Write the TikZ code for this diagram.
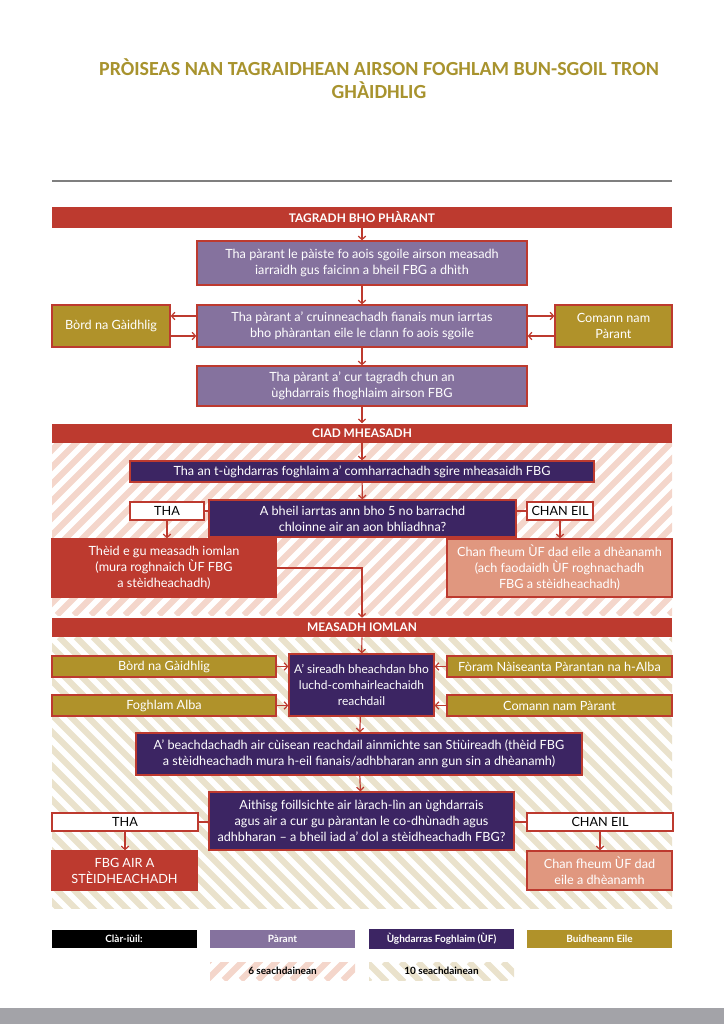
\documentclass[tikz,border=0pt]{standalone}
\usepackage{fontspec}
\setmainfont{Lato}
\newfontfamily\titlefont{Carlito}
\usetikzlibrary{arrows.meta}
\definecolor{redc}{HTML}{BD3A2F}
\definecolor{parentc}{HTML}{85729E}
\definecolor{authc}{HTML}{3C2563}
\definecolor{goldc}{HTML}{B0922A}
\definecolor{salmonc}{HTML}{E0977F}
\definecolor{pinkstripe}{HTML}{F4D6CB}
\definecolor{beigestripe}{HTML}{EAE2CC}
\definecolor{titlec}{HTML}{A8932E}
\definecolor{rulec}{HTML}{7F7F7F}
\definecolor{footc}{HTML}{A3A3A8}
\begin{document}
\begin{tikzpicture}[x=0.75pt,y=-0.75pt,
    size/.style 2 args={minimum width=#1*0.75pt, minimum height=#2*0.75pt},
    box/.style={draw=redc, line width=0.9pt, text=white, align=center, inner sep=1pt,
        font=\fontsize{9.5}{12}\selectfont},
    parent/.style={box, fill=parentc},
    authority/.style={box, fill=authc},
    other/.style={box, fill=goldc},
    answer/.style={box, fill=white, text=black},
    result/.style={box, fill=redc},
    soft/.style={box, fill=salmonc},
    bar/.style={fill=redc, text=white, size={620}{19}, font=\fontsize{8.9}{10}\selectfont\bfseries},
    key/.style={size={145}{18}, text=white, font=\fontsize{7.5}{8}\selectfont\bfseries},
    arr/.style={draw=redc, line width=0.9pt, -{Straight Barb[length=2.6pt,width=5.5pt]}},
    link/.style={draw=redc, line width=0.9pt}]
    \useasboundingbox (0,0) rectangle (724,1024);
    % title
    \node[text=titlec, align=center, font=\titlefont\fontsize{15}{17.3}\selectfont\bfseries] (title) at (379,78.5)
        {PRÒISEAS NAN TAGRAIDHEAN AIRSON FOGHLAM BUN-SGOIL TRON\\GHÀIDHLIG};
    \draw[rulec, line width=1.4pt] (52,181) -- (672,181);
    % 6 weeks
    \begin{scope}
        \clip (52,442) rectangle (672,615);
        \foreach \a in {-130,-113,...,672}
            \draw[pinkstripe, line width=4.6pt] (\a,615) -- ++(180,-180);
    \end{scope}
    % 10 weeks
    \begin{scope}
        \clip (52,637) rectangle (672,908);
        \foreach \a in {-230,-213,...,672}
            \draw[beigestripe, line width=4.6pt] (\a,637) -- ++(280,280);
    \end{scope}
    % parent request
    \node[bar] (bar1) at (362,217.5) {TAGRADH BHO PHÀRANT};
    \node[parent, size={330}{44}] (p1) at (362,263)
        {Tha pàrant le pàiste fo aois sgoile airson measadh\\iarraidh gus faicinn a bheil FBG a dhìth};
    \node[parent, size={330}{42}] (p2) at (362,326)
        {Tha pàrant a’ cruinneachadh fianais mun iarrtas\\bho phàrantan eile le clann fo aois sgoile};
    \node[other, size={118}{42}] (g1) at (111,326) {Bòrd na Gàidhlig};
    \node[other, size={117}{42}] (g2) at (613.5,326) {Comann nam\\Pàrant};
    \node[parent, size={330}{40}] (p3) at (362,386)
        {Tha pàrant a’ cur tagradh chun an\\ùghdarrais fhoghlaim airson FBG};
    \draw[arr] (bar1) -- (p1);
    \draw[arr] (p1) -- (p2);
    \draw[arr] ([yshift=7.5pt]p2.west) -- ([yshift=7.5pt]g1.east);
    \draw[arr] ([yshift=-7.5pt]g1.east) -- ([yshift=-7.5pt]p2.west);
    \draw[arr] ([yshift=7.5pt]p2.east) -- ([yshift=7.5pt]g2.west);
    \draw[arr] ([yshift=-7.5pt]g2.west) -- ([yshift=-7.5pt]p2.east);
    \draw[arr] (p2) -- (p3);
    % first assessment
    \node[bar] (bar2) at (362,433) {CIAD MHEASADH};
    \draw[arr] (p3) -- (bar2);
    \node[authority, size={464}{21}] (u1) at (362,471.5)
        {Tha an t-ùghdarras foghlaim a’ comharrachadh sgire mheasaidh FBG};
    \node[authority, size={307}{37}] (u2) at (362.5,518.5)
        {A bheil iarrtas ann bho 5 no barrachd\\chloinne air an aon bhliadhna?};
    \node[answer, size={74}{18}] (tha1) at (167,511) {THA};
    \node[answer, size={66}{18}] (chan1) at (560,511) {CHAN EIL};
    \node[result, size={224}{58}] (r1) at (164,568)
        {Thèid e gu measadh iomlan\\(mura roghnaich ÙF FBG\\a stèidheachadh)};
    \node[soft, size={225}{58}] (s1) at (559.5,568)
        {Chan fheum ÙF dad eile a dhèanamh\\(ach faodaidh ÙF roghnachadh\\FBG a stèidheachadh)};
    \draw[arr] (bar2) -- (u1);
    \draw[arr] (u1) -- (u2);
    \draw[link] (u2.west |- tha1.east) -- (tha1.east);
    \draw[link] (u2.east |- chan1.west) -- (chan1.west);
    \draw[arr] (tha1.south) -- (tha1.south |- r1.north);
    \draw[arr] (chan1.south) -- (chan1.south |- s1.north);
    % full assessment
    \node[bar] (bar3) at (362,627.5) {MEASADH IOMLAN};
    \draw[arr] (r1.east) -| (bar3.north);
    \node[authority, size={145}{62}, font=\fontsize{9}{12}\selectfont] (u3) at (361.5,685)
        {A’ sireadh bheachdan bho\\luchd-comhairleachaidh\\reachdail};
    \node[other, size={224}{21}] (g3) at (164,666.5) {Bòrd na Gàidhlig};
    \node[other, size={224}{21}] (g4) at (164,705.5) {Foghlam Alba};
    \node[other, size={225}{21}] (g5) at (559.5,666.5) {Fòram Nàiseanta Pàrantan na h-Alba};
    \node[other, size={225}{21}] (g6) at (559.5,705.5) {Comann nam Pàrant};
    \draw[arr] (bar3) -- (u3);
    \draw[arr] (g3.east) -- (g3.east -| u3.west);
    \draw[arr] (g4.east) -- (g4.east -| u3.west);
    \draw[arr] (g5.west) -- (g5.west -| u3.east);
    \draw[arr] (g6.west) -- (g6.west -| u3.east);
    \node[authority, size={446}{42}] (u4) at (359,754)
        {A’ beachdachadh air cùisean reachdail ainmichte san Stiùireadh (thèid FBG\\a stèidheachadh mura h-eil fianais/adhbharan ann gun sin a dhèanamh)};
    \node[authority, size={305}{58}] (u5) at (361.5,821)
        {Aithisg foillsichte air làrach-lìn an ùghdarrais\\agus air a cur gu pàrantan le co-dhùnadh agus\\adhbharan – a bheil iad a’ dol a stèidheachadh FBG?};
    \node[answer, size={146}{18}] (tha2) at (125,822) {THA};
    \node[answer, size={146}{18}] (chan2) at (600,822) {CHAN EIL};
    \node[result, size={145}{39}] (r2) at (124.5,870.5) {FBG AIR A\\STÈIDHEACHADH};
    \node[soft, size={145}{39}] (s2) at (599.5,870.5) {Chan fheum ÙF dad\\eile a dhèanamh};
    \draw[arr] (u3) -- (u4);
    \draw[arr] (u4) -- (u5);
    \draw[link] (tha2.east) -- (tha2.east -| u5.west);
    \draw[link] (chan2.west) -- (chan2.west -| u5.east);
    \draw[arr] (tha2.south) -- (tha2.south |- r2.north);
    \draw[arr] (chan2.south) -- (chan2.south |- s2.north);
    % key
    \node[key, fill=black] (k1) at (124,939) {Clàr-iùil:};
    \node[key, fill=parentc] (k2) at (282.5,939) {Pàrant};
    \node[key, fill=authc] (k3) at (441.5,939) {Ùghdarras Foghlaim (ÙF)};
    \node[key, fill=goldc] (k4) at (599.5,939) {Buidheann Eile};
    \begin{scope}
        \clip (210,962) rectangle (355,980);
        \foreach \a in {190,207,...,360}
            \draw[pinkstripe, line width=4.6pt] (\a,980) -- ++(20,-20);
    \end{scope}
    \begin{scope}
        \clip (369,962) rectangle (514,980);
        \foreach \a in {350,367,...,520}
            \draw[beigestripe, line width=4.6pt] (\a,962) -- ++(20,20);
    \end{scope}
    \node[key, text=black] (k5) at (282.5,971) {6 seachdainean};
    \node[key, text=black] (k6) at (441.5,971) {10 seachdainean};
    \fill[footc] (0,1008) rectangle (724,1024);
\end{tikzpicture}
\end{document}
